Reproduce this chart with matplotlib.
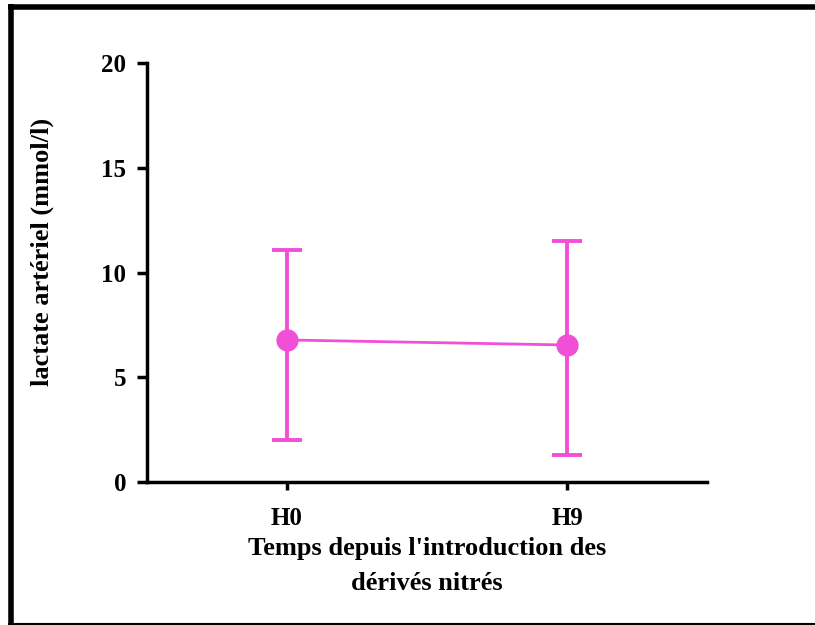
import matplotlib
matplotlib.use("Agg")
import matplotlib.pyplot as plt
from matplotlib.lines import Line2D

# data
times = ["H0", "H9"]
lactate_mean = [6.78, 6.54]
lactate_upper = [11.07, 11.5]
lactate_lower = [2.0, 1.29]

pink = "#f24fd7"
plt.rcParams['font.family'] = ['Liberation Serif', 'DejaVu Serif']

fig = plt.figure(figsize=(8.15, 6.25), dpi=100)
ax = fig.add_axes([147 / 815, 1 - 482 / 625, 560 / 815, 419 / 625])

x = list(range(len(times)))
err_low = [m - lo for m, lo in zip(lactate_mean, lactate_lower)]
err_high = [hi - m for m, hi in zip(lactate_mean, lactate_upper)]

ax.errorbar(x, lactate_mean, yerr=[err_low, err_high], color=pink,
            ecolor=pink, elinewidth=2.8, capsize=11, capthick=2.8,
            linewidth=2, marker='o', markersize=15, zorder=3)

ax.set_xlim(-0.5, 1.5)
ax.set_ylim(0, 20)
ax.set_xticks(x)
ax.set_xticklabels(times)
ax.set_yticks([0, 5, 10, 15, 20])

for s in ['top', 'right']:
    ax.spines[s].set_visible(False)
for s in ['left', 'bottom']:
    ax.spines[s].set_linewidth(2.5)
ax.tick_params(axis='y', length=7, width=2.5, pad=8, labelsize=18)
ax.tick_params(axis='x', length=6, width=2.5, pad=12, labelsize=18)
for lab in ax.get_xticklabels() + ax.get_yticklabels():
    lab.set_fontweight('bold')

ax.set_ylabel("lactate artériel (mmol/l)", fontsize=19, fontweight='bold')
ax.yaxis.set_label_coords(-0.166, 0.55)
fig.text(427 / 815, 1 - 549 / 625, "Temps depuis l'introduction des",
         ha='center', va='center', fontsize=19, fontweight='bold')
fig.text(427 / 815, 1 - 584 / 625, "dérivés nitrés",
         ha='center', va='center', fontsize=19, fontweight='bold')

# frame around the picture
fig.add_artist(Line2D([10.5 / 815, 10.5 / 815], [0, 1 - 4 / 625],
                      transform=fig.transFigure, color='black', linewidth=4,
                      solid_capstyle='butt'))
fig.add_artist(Line2D([8 / 815, 1], [1 - 6.5 / 625, 1 - 6.5 / 625],
                      transform=fig.transFigure, color='black', linewidth=4,
                      solid_capstyle='butt'))
fig.add_artist(Line2D([8 / 815, 1], [1 / 625, 1 / 625],
                      transform=fig.transFigure, color='black', linewidth=1.5,
                      solid_capstyle='butt'))

fig.savefig("out.png", dpi=100)
